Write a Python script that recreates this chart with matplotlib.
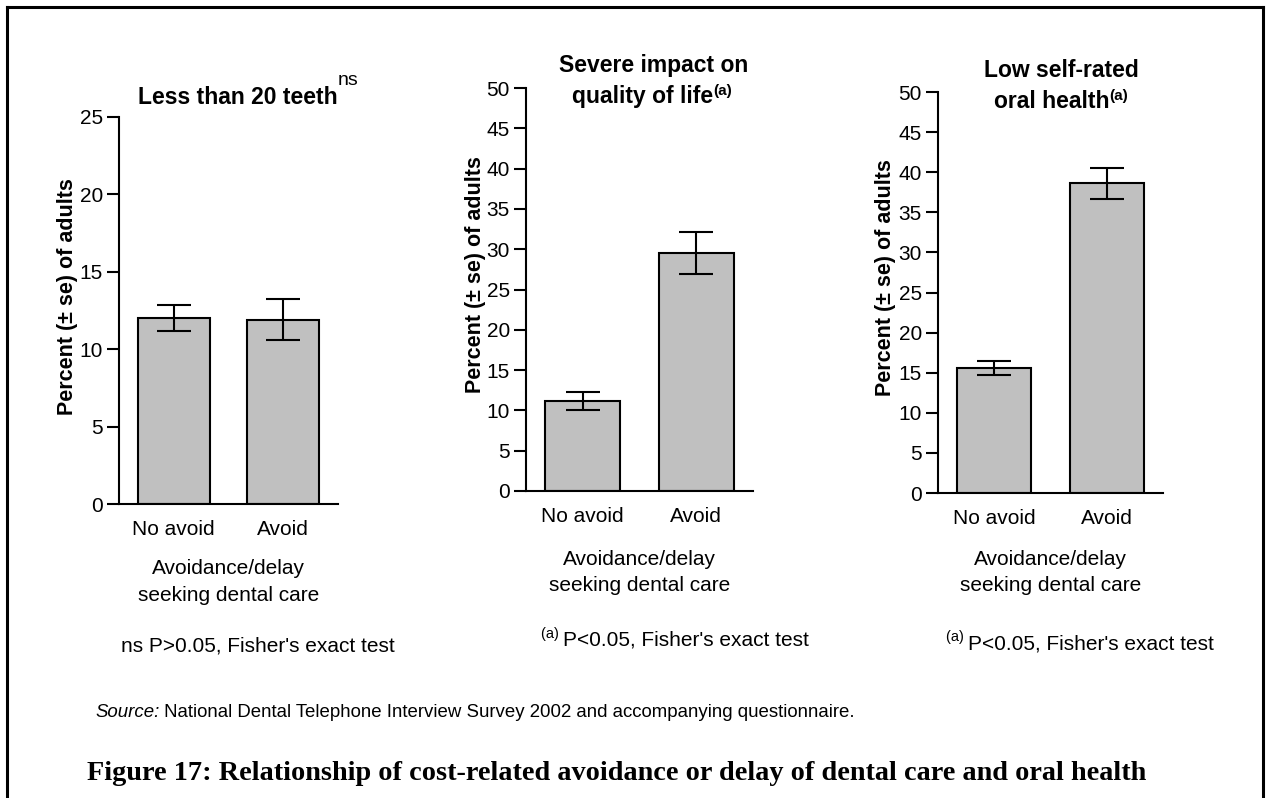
import matplotlib
matplotlib.use("Agg")
import matplotlib.pyplot as plt
from matplotlib.lines import Line2D

plt.rcParams['font.family'] = ['Liberation Sans', 'DejaVu Sans']

# ---- data ----
categories = ["No avoid", "Avoid"]
teeth_pct = [12.0, 11.9]
teeth_se = [0.85, 1.33]
qol_pct = [11.2, 29.5]
qol_se = [1.13, 2.6]
srh_pct = [15.6, 38.6]
srh_se = [0.92, 1.98]

W, H = 1269, 798
fig = plt.figure(figsize=(W / 100, H / 100), dpi=100)
fig.patch.set_facecolor('white')

def fx(x):
    return x / W

def fy(y):
    return 1 - y / H

def ax_at(l, r, t, b):
    return fig.add_axes([l / W, 1 - b / H, (r - l) / W, (b - t) / H])

TICK_FS = 15
panels = [
    dict(box=(119, 338, 117, 504), vals=teeth_pct, se=teeth_se, ymax=25,
         ylab=(67, 297), xlab_y=582, foot=(258, 645), foot_sup=None,
         foot_text="ns P>0.05, Fisher's exact test"),
    dict(box=(526, 753, 88, 491), vals=qol_pct, se=qol_se, ymax=50,
         ylab=(475, 275), xlab_y=572.5, foot=(675, 639), foot_sup="(a)",
         foot_text="P<0.05, Fisher's exact test"),
    dict(box=(938, 1163, 92, 493), vals=srh_pct, se=srh_se, ymax=50,
         ylab=(885, 278), xlab_y=572.5, foot=(1080, 642), foot_sup="(a)",
         foot_text="P<0.05, Fisher's exact test"),
]

for p in panels:
    l, r, t, b = p['box']
    ax = ax_at(l, r, t, b)
    x = list(range(len(categories)))
    ax.bar(x, p['vals'], width=0.66, color='#c0c0c0', edgecolor='black',
           linewidth=1.5, zorder=2)
    ax.errorbar(x, p['vals'], yerr=p['se'], fmt='none', ecolor='black',
                elinewidth=1.5, capsize=12, capthick=1.5, zorder=3)
    ax.set_xlim(-0.5, 1.5)
    ax.set_ylim(0, p['ymax'])
    ax.set_yticks(range(0, p['ymax'] + 1, 5))
    ax.set_xticks(x)
    ax.set_xticklabels(categories, fontsize=TICK_FS)
    ax.tick_params(axis='x', length=0, pad=11.5)
    ax.tick_params(axis='y', length=8.6, width=1.5, direction='out',
                   labelsize=TICK_FS, pad=3)
    for s in ['top', 'right']:
        ax.spines[s].set_visible(False)
    for s in ['left', 'bottom']:
        ax.spines[s].set_linewidth(1.5)
    ax.patch.set_alpha(0)
    # y label
    fig.text(fx(p['ylab'][0]), fy(p['ylab'][1]), "Percent (\u00b1 se) of adults",
             rotation=90, ha='center', va='center', fontsize=15.5,
             fontweight='bold')
    # x label
    fig.text(fx((l + r) / 2), fy(p['xlab_y']), "Avoidance/delay\nseeking dental care",
             ha='center', va='center', fontsize=TICK_FS, linespacing=1.5,
             multialignment='center')

fig.canvas.draw()
renderer = fig.canvas.get_renderer()

def rich(xc, y_base, segs, ha='center'):
    """segs: list of (text, size, weight, style, raise_px)"""
    objs = []
    for txt, size, weight, style, dy in segs:
        t = fig.text(0, fy(y_base - dy), txt, fontsize=size, fontweight=weight,
                     fontstyle=style, ha='left', va='baseline')
        objs.append(t)
    widths = [o.get_window_extent(renderer).width for o in objs]
    total = sum(widths)
    x0 = xc - total / 2 if ha == 'center' else xc
    for o, w in zip(objs, widths):
        o.set_x(fx(x0))
        x0 += w
    return objs

# Titles
rich(138, 104, [("Less than 20 teeth", 16.5, 'bold', 'normal', 0),
                ("ns", 14, 'normal', 'normal', 19)], ha='left')
rich(654, 72, [("Severe impact on", 16.5, 'bold', 'normal', 0)])
rich(652, 103, [("quality of life", 16.5, 'bold', 'normal', 0),
                ("(a)", 11, 'bold', 'normal', 8)])
rich(1061, 77, [("Low self-rated", 16.5, 'bold', 'normal', 0)])
rich(1061, 108, [("oral health", 16.5, 'bold', 'normal', 0),
                 ("(a)", 11, 'bold', 'normal', 8)])

# Footnotes
for p in panels:
    xc, yc = p['foot']
    yb = yc + 7
    if p['foot_sup'] is None:
        rich(xc, yb, [(p['foot_text'], TICK_FS, 'normal', 'normal', 0)])
    else:
        rich(xc, yb, [(p['foot_sup'] + " ", 10.5, 'normal', 'normal', 8),
                      (p['foot_text'], TICK_FS, 'normal', 'normal', 0)])

# Source line, fit to reference width
def fit_line(x_left, y_base, segs, target_w, family=None):
    objs = []
    for txt, weight, style in segs:
        kw = dict(fontsize=10, fontweight=weight, fontstyle=style, ha='left', va='baseline')
        if family:
            kw['family'] = family
        objs.append(fig.text(0, fy(y_base), txt, **kw))
    widths = [o.get_window_extent(renderer).width for o in objs]
    scale = target_w / sum(widths)
    for o in objs:
        o.set_fontsize(10 * scale)
    widths = [o.get_window_extent(renderer).width for o in objs]
    x0 = x_left
    for o, w in zip(objs, widths):
        o.set_x(fx(x0))
        x0 += w
    return objs

fit_line(95, 717, [("Source:", 'normal', 'italic'),
                   (" National Dental Telephone Interview Survey 2002 and accompanying questionnaire.",
                    'normal', 'normal')], 763)
fit_line(87, 780, [("Figure 17: Relationship of cost-related avoidance or delay of dental care and oral health",
                    'bold', 'normal')], 1063, family=['Liberation Serif', 'DejaVu Serif'])

# Border (open at bottom)
lw = 2.2
fig.add_artist(Line2D([fx(7), fx(7)], [0, fy(7)], transform=fig.transFigure, color='black', lw=lw))
fig.add_artist(Line2D([fx(7), fx(1263)], [fy(7), fy(7)], transform=fig.transFigure, color='black', lw=lw))
fig.add_artist(Line2D([fx(1263), fx(1263)], [0, fy(7)], transform=fig.transFigure, color='black', lw=lw))

fig.savefig("out.png", dpi=100, facecolor='white')
